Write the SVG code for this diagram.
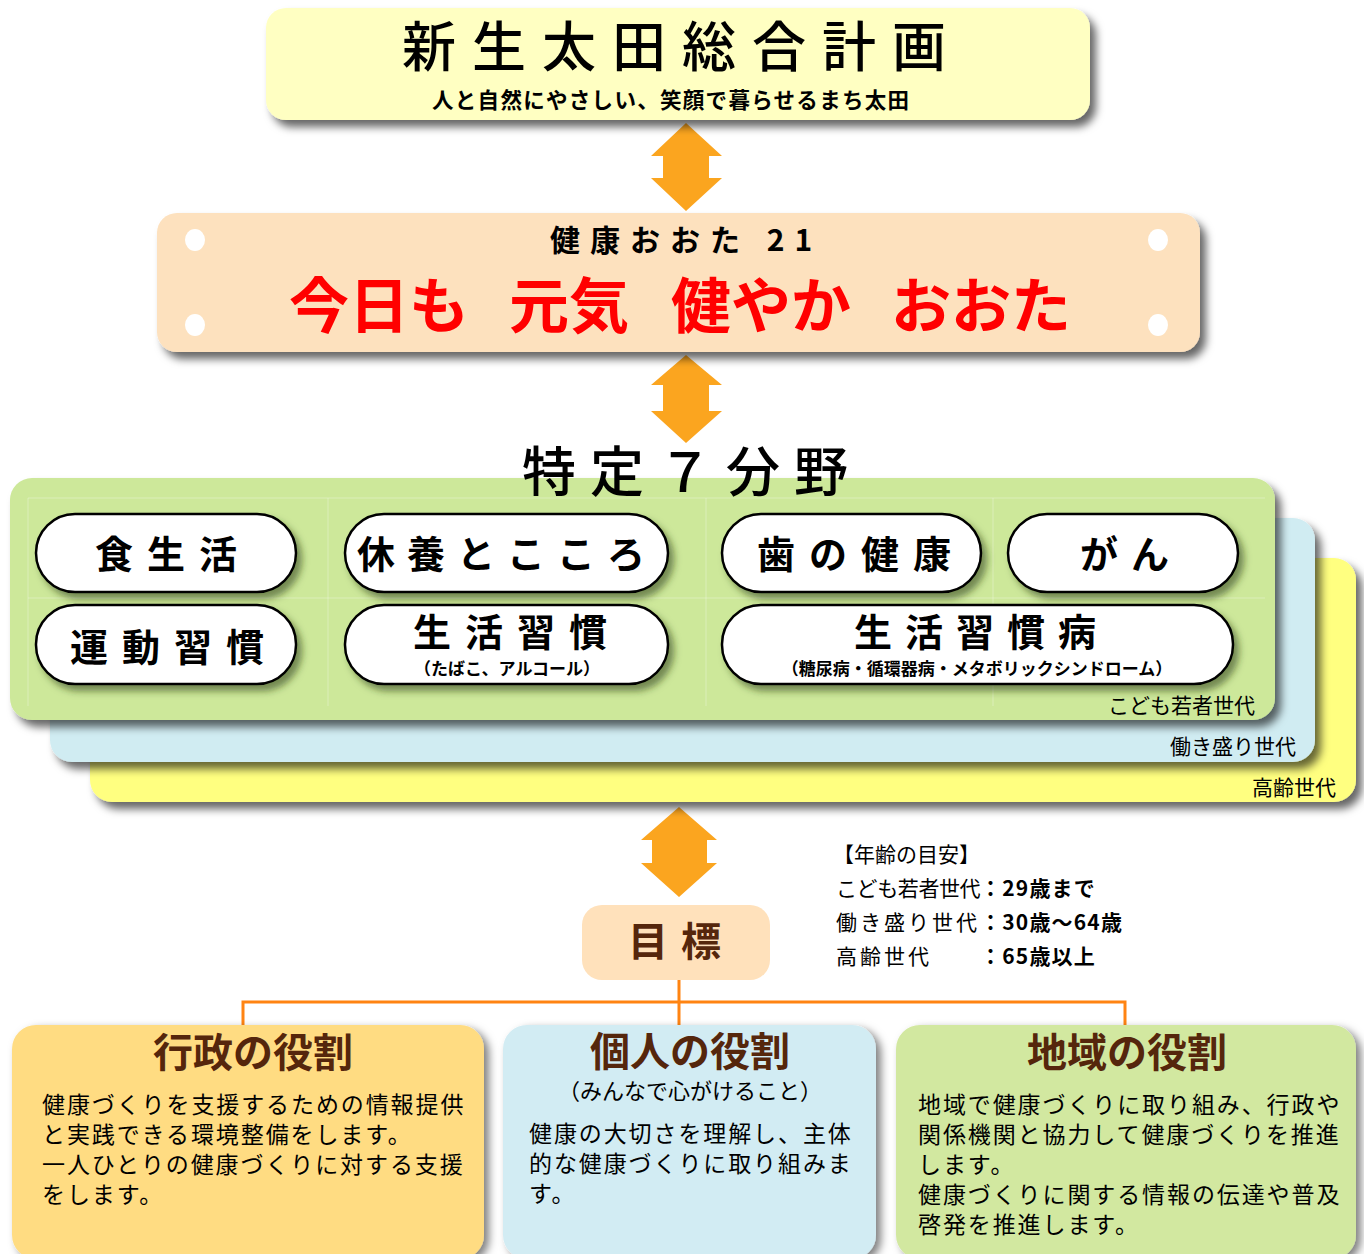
<svg xmlns="http://www.w3.org/2000/svg" width="1364" height="1254" viewBox="0 0 1364 1254">
<defs>
<filter id="sh" x="-5%" y="-10%" width="115%" height="140%"><feDropShadow dx="6" dy="7" stdDeviation="4" flood-color="#000" flood-opacity="0.6"/></filter>
<filter id="shp" x="-10%" y="-15%" width="125%" height="145%"><feDropShadow dx="5" dy="6" stdDeviation="3.5" flood-color="#2a3a10" flood-opacity="0.55"/></filter>
<filter id="shb" x="-5%" y="-5%" width="115%" height="115%"><feDropShadow dx="5" dy="4" stdDeviation="4" flood-color="#000" flood-opacity="0.5"/></filter>
</defs>
<style>
.j{font-family:"Noto Sans CJK JP","Noto Sans CJK SC",sans-serif}
.b{font-weight:bold}
.pill{fill:#fff;stroke:#000;stroke-width:2.5}
.pt{font-size:38px;font-weight:bold;fill:#000}
.ps{font-size:17px;font-weight:bold;fill:#000}
.arrow{fill:#FBA51F}
.conn{stroke:#FF8412;stroke-width:3;fill:none}
.ttl{font-size:40px;font-weight:bold;fill:#55260C}
.body{font-size:23px;fill:#000;letter-spacing:1.9px}
.gen{font-size:21px;fill:#000}
.age{font-size:21px;fill:#000}
.agev{font-size:21px;fill:#000;font-weight:bold;letter-spacing:1.2px}
</style>
<rect width="1364" height="1254" fill="#fff"/>

<g id="connectors">
<polygon class="arrow" points="686,123 722,156 709,156 709,178 722,178 686,211 651,178 663,178 663,156 651,156"/>
<polygon class="arrow" points="686,355 722,385 709,385 709,411 722,411 686,443 651,411 663,411 663,385 651,385"/>
<polygon class="arrow" points="679,807 717,840 707,840 707,863 717,863 679,897 641,863 652,863 652,840 641,840"/>
<path class="conn" d="M679,980 V1002 M243,1026 V1002 H1125 V1026 M679,1002 V1026"/>
</g>

<g id="plan">
<rect x="266" y="8" width="824" height="112" rx="20" fill="#FFFFC2" filter="url(#sh)"/>
<text class="j" x="402" y="67" font-size="54" letter-spacing="16" fill="#000" font-weight="500">新生太田総合計画</text>
<text class="j b" x="432" y="108" font-size="21.5" letter-spacing="1.3" fill="#000">人と自然にやさしい、笑顔で暮らせるまち太田</text>
</g>

<g id="kenko21">
<rect x="157" y="213" width="1043" height="139" rx="20" fill="#FDE1BE" filter="url(#sh)"/>
<ellipse cx="195" cy="240" rx="10" ry="11" fill="#fff"/>
<ellipse cx="195" cy="325" rx="10" ry="11" fill="#fff"/>
<ellipse cx="1158" cy="240" rx="10" ry="11" fill="#fff"/>
<ellipse cx="1158" cy="325" rx="10" ry="11" fill="#fff"/>
<text class="j b" x="550" y="251" font-size="30" letter-spacing="10" fill="#000">健康おおた 21</text>
<text class="j b" y="328" font-size="60" fill="#FF0000"><tspan x="289">今日も</tspan><tspan x="509">元気</tspan><tspan x="671">健やか</tspan><tspan x="891">おおた</tspan></text>
</g>

<g id="generations">
<rect x="90" y="558" width="1266" height="244" rx="22" fill="#FFFF80" filter="url(#sh)"/>
<rect x="50" y="518" width="1265" height="244" rx="22" fill="#D0ECF2" filter="url(#sh)"/>
<rect x="10" y="478" width="1265" height="242" rx="22" fill="#CDE89A" filter="url(#sh)"/>
<g stroke="#fff" stroke-opacity="0.3" stroke-width="1">
<path d="M28,498 H1265 M28,598 H1265 M28,706 V498 M328,498 V706 M706,498 V706 M993,498 V706"/>
</g>
<text class="j gen" x="1255" y="713" text-anchor="end">こども若者世代</text>
<text class="j gen" x="1296" y="754" text-anchor="end">働き盛り世代</text>
<text class="j gen" x="1336" y="795" text-anchor="end">高齢世代</text>
</g>

<g id="title7">
<text class="j" x="522" y="492" font-size="54" letter-spacing="14" fill="#000" font-weight="500">特定７分野</text>
</g>

<g id="p-shoku">
<rect class="pill" x="36" y="514" width="260" height="78" rx="39" filter="url(#shp)"/>
<text class="j pt" x="95" y="568" letter-spacing="14">食生活</text>
</g>
<g id="p-kyuyo">
<rect class="pill" x="345" y="514" width="323" height="78" rx="39" filter="url(#shp)"/>
<text class="j pt" x="357" y="568" font-size="40" letter-spacing="12">休養とこころ</text>
</g>
<g id="p-ha">
<rect class="pill" x="722" y="514" width="259" height="78" rx="39" filter="url(#shp)"/>
<text class="j pt" x="757" y="568" letter-spacing="14">歯の健康</text>
</g>
<g id="p-gan">
<rect class="pill" x="1008" y="514" width="230" height="78" rx="39" filter="url(#shp)"/>
<text class="j pt" x="1080" y="568" font-size="40" letter-spacing="13">がん</text>
</g>
<g id="p-undo">
<rect class="pill" x="36" y="605" width="260" height="79" rx="39" filter="url(#shp)"/>
<text class="j pt" x="70" y="661" letter-spacing="14">運動習慣</text>
</g>
<g id="p-shukan">
<rect class="pill" x="345" y="605" width="323" height="79" rx="39" filter="url(#shp)"/>
<text class="j pt" x="413" y="646" letter-spacing="14">生活習慣</text>
<text class="j ps" x="507" y="675" text-anchor="middle">（たばこ、アルコール）</text>
</g>
<g id="p-shukanbyo">
<rect class="pill" x="722" y="605" width="511" height="79" rx="39" filter="url(#shp)"/>
<text class="j pt" x="854" y="646" letter-spacing="13">生活習慣病</text>
<text class="j ps" x="977" y="675" text-anchor="middle">（糖尿病・循環器病・メタボリックシンドローム）</text>
</g>

<g id="age-guide">
<text class="j age" x="833" y="862">【年齢の目安】</text>
<text class="j age" x="836" y="896" letter-spacing="-0.4">こども若者世代</text>
<text class="j agev" x="980" y="896">：29歳まで</text>
<text class="j age" x="836" y="930" letter-spacing="3">働き盛り世代</text>
<text class="j agev" x="980" y="930">：30歳～64歳</text>
<text class="j age" x="836" y="964" letter-spacing="3">高齢世代</text>
<text class="j agev" x="980" y="964">：65歳以上</text>
</g>

<g id="mokuhyo">
<rect x="582" y="905" width="188" height="75" rx="20" fill="#FFE1BB"/>
<text class="j ttl" x="628" y="956" letter-spacing="13">目標</text>
</g>

<g id="gyosei">
<rect x="12" y="1025" width="472" height="234" rx="24" fill="#FFDC82" filter="url(#shb)"/>
<text class="j ttl" x="253" y="1067" text-anchor="middle">行政の役割</text>
<text class="j body" x="42" y="1113">健康づくりを支援するための情報提供</text>
<text class="j body" x="42" y="1143">と実践できる環境整備をします。</text>
<text class="j body" x="42" y="1173">一人ひとりの健康づくりに対する支援</text>
<text class="j body" x="42" y="1203">をします。</text>
</g>
<g id="kojin">
<rect x="503" y="1025" width="373" height="234" rx="24" fill="#D2ECF3" filter="url(#shb)"/>
<text class="j ttl" x="690" y="1066" text-anchor="middle">個人の役割</text>
<text class="j" x="690" y="1099" font-size="22" text-anchor="middle" fill="#000">（みんなで心がけること）</text>
<text class="j body" x="529" y="1142">健康の大切さを理解し、主体</text>
<text class="j body" x="529" y="1172">的な健康づくりに取り組みま</text>
<text class="j body" x="529" y="1202">す。</text>
</g>
<g id="chiiki">
<rect x="896" y="1025" width="460" height="234" rx="24" fill="#D2E8A0" filter="url(#shb)"/>
<text class="j ttl" x="1127" y="1067" text-anchor="middle">地域の役割</text>
<text class="j body" x="918" y="1113">地域で健康づくりに取り組み、行政や</text>
<text class="j body" x="918" y="1143">関係機関と協力して健康づくりを推進</text>
<text class="j body" x="918" y="1173">します。</text>
<text class="j body" x="918" y="1203">健康づくりに関する情報の伝達や普及</text>
<text class="j body" x="918" y="1233">啓発を推進します。</text>
</g>
</svg>
